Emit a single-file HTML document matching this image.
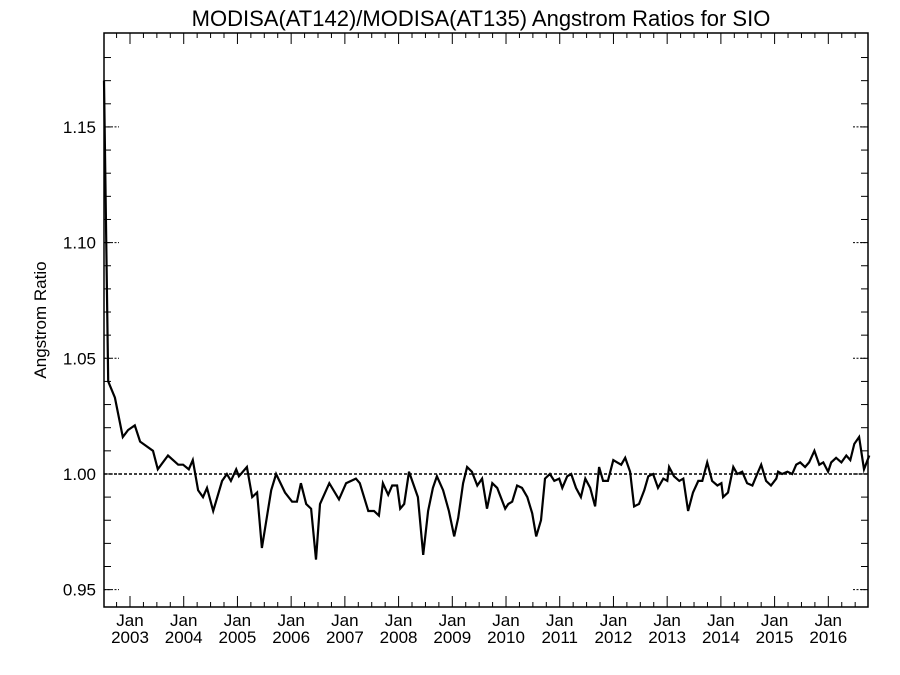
<!DOCTYPE html>
<html><head><meta charset="utf-8"><style>
html,body{margin:0;padding:0;background:#fff;}
svg{display:block;font-family:"Liberation Sans",Arial,sans-serif;}
</style></head><body>
<svg id="chart" width="900" height="675" viewBox="0 0 900 675">
<text x="481" y="26" font-size="22" text-anchor="middle">MODISA(AT142)/MODISA(AT135)  Angstrom Ratios for SIO</text>
<text transform="translate(46,320) rotate(-90)" font-size="17" text-anchor="middle">Angstrom Ratio</text>
<g id="axes"></g>
<g id="series"></g>
</svg>
<script>
const monthIdx=[4.55,5.5,7.0,8.8,10.0,11.5,12.7,15.6,16.7,19.0,21.3,22.4,23.7,24.6,25.8,26.9,27.8,29.2,31.2,32.3,33.2,34.4,35.0,36.8,38.0,39.1,40.2,42.3,43.4,45.4,47.0,48.1,49.0,50.2,51.3,52.4,53.3,55.4,57.6,59.2,61.4,62.3,64.2,65.5,66.6,67.5,68.7,69.6,70.7,71.4,72.3,73.4,75.4,76.6,77.7,78.8,79.7,81.1,82.4,83.6,84.5,85.6,86.5,87.6,88.8,89.9,91.0,92.2,93.3,95.1,95.8,96.7,97.8,98.9,100.1,101.2,102.1,103.2,104.1,105.2,106.2,107.3,108.0,109.1,110.0,111.1,112.2,113.2,114.3,115.4,116.3,117.2,118.3,119.5,120.4,121.3,122.2,123.3,124.2,125.3,126.5,127.4,128.5,129.6,130.8,131.7,132.1,133.2,134.4,135.3,136.4,137.5,138.7,139.6,140.7,141.8,143.0,143.9,144.3,145.4,146.6,147.5,148.6,149.7,150.9,152.0,152.9,154.0,155.1,156.3,156.7,157.6,158.8,159.9,160.8,161.7,162.8,163.7,164.9,166.0,166.9,168.0,168.7,169.8,171.0,172.1,173.0,173.9,175.0,176.1,177.3];
const ratioValues=[1.170,1.040,1.033,1.016,1.019,1.021,1.014,1.010,1.002,1.008,1.004,1.004,1.002,1.006,0.993,0.990,0.994,0.984,0.997,1.000,0.997,1.002,0.999,1.003,0.990,0.992,0.968,0.993,1.000,0.992,0.988,0.988,0.996,0.987,0.985,0.963,0.987,0.996,0.989,0.996,0.998,0.996,0.984,0.984,0.982,0.996,0.991,0.995,0.995,0.985,0.987,1.001,0.990,0.965,0.984,0.994,0.999,0.993,0.984,0.973,0.981,0.996,1.003,1.001,0.995,0.998,0.985,0.996,0.994,0.985,0.987,0.988,0.995,0.994,0.990,0.983,0.973,0.980,0.998,1.000,0.997,0.998,0.994,0.999,1.000,0.994,0.990,0.998,0.994,0.986,1.003,0.997,0.997,1.006,1.005,1.004,1.007,1.001,0.986,0.987,0.993,0.999,1.000,0.994,0.998,0.997,1.003,0.999,0.997,0.998,0.984,0.992,0.997,0.997,1.005,0.997,0.995,0.996,0.990,0.992,1.003,1.000,1.001,0.996,0.995,1.000,1.004,0.997,0.995,0.998,1.001,1.000,1.001,1.000,1.004,1.005,1.003,1.005,1.010,1.004,1.005,1.001,1.005,1.007,1.005,1.008,1.006,1.013,1.016,1.002,1.008];
const yearLabels=["2003","2004","2005","2006","2007","2008","2009","2010","2011","2012","2013","2014","2015","2016"];
const yTickValues=[0.95,1.00,1.05,1.10,1.15];
const yTickLabels=["0.95","1.00","1.05","1.10","1.15"];

const L=104,R=868,T=33,B=607;
const xMin=4.55,xMax=177.0,yMin=0.9425,yMax=1.1906;
const NS="http://www.w3.org/2000/svg";
function xs(m){return L+(m-xMin)/(xMax-xMin)*(R-L);}
function ys(v){return B-(v-yMin)/(yMax-yMin)*(B-T);}
function dateToIdx(t){return (t-1.688)/0.9897;} // t: months since Jan 2002
function mk(tag,attrs,parent){const e=document.createElementNS(NS,tag);for(const k in attrs)e.setAttribute(k,attrs[k]);parent.appendChild(e);return e;}
const ax=document.getElementById('axes');
const frame=mk('rect',{x:L,y:T,width:R-L,height:B-T,fill:'none',stroke:'#000','stroke-width':1.5},ax);


// y minor ticks
for(let v=0.95;v<=1.19;v+=0.01){
  const y=ys(v);
  const t1=mk('line',{x1:L,x2:L+7,y1:y,y2:y,stroke:'#000','stroke-width':1},ax);
  
  
  const t2=mk('line',{x1:R-7,x2:R,y1:y,y2:y,stroke:'#000','stroke-width':1},ax);
  
  
}
yTickValues.forEach((v,i)=>{
  const y=ys(v);
  const a=mk('line',{x1:L,x2:L+15,y1:y,y2:y,stroke:'#000','stroke-width':1,'stroke-dasharray':'2,1.5'},ax);
  
  
  const b=mk('line',{x1:R-15,x2:R,y1:y,y2:y,stroke:'#000','stroke-width':1,'stroke-dasharray':'2,1.5'},ax);
  
  
  const tx=mk('text',{x:L-8,y:y+6,'font-size':17,'text-anchor':'end'},ax);
  tx.textContent=yTickLabels[i];
  
  
});
// reference line at 1.00
const ref=mk('line',{x1:L,x2:R,y1:ys(1.0),y2:ys(1.0),stroke:'#000','stroke-width':1.5,'stroke-dasharray':'3,2'},ax);


// x ticks: quarterly minor, yearly major
for(let t=6;t<=177;t+=3){
  const x=xs(dateToIdx(t));
  if(x<L||x>R)continue;
  const major=(t%12===0);
  const len=major?11:5;
  const a=mk('line',{x1:x,x2:x,y1:B,y2:B-len,stroke:'#000','stroke-width':1},ax);
  
  
  const b=mk('line',{x1:x,x2:x,y1:T,y2:T+len,stroke:'#000','stroke-width':1},ax);
  
  
}
yearLabels.forEach((yl,i)=>{
  const x=xs(dateToIdx(12*(i+1)));
  const a=mk('text',{x:x,y:626,'font-size':17,'text-anchor':'middle'},ax);
  a.textContent='Jan';
  
  
  const b=mk('text',{x:x,y:643,'font-size':17,'text-anchor':'middle'},ax);
  b.textContent=yl;
  
  
});
// series
const sg=document.getElementById('series');
const pts=monthIdx.map((m,i)=>xs(m).toFixed(1)+','+ys(ratioValues[i]).toFixed(1)).join(' ');
const line=mk('polyline',{points:pts,fill:'none',stroke:'#000','stroke-width':2.2,'stroke-linejoin':'miter'},sg);


</script>
</body></html>
